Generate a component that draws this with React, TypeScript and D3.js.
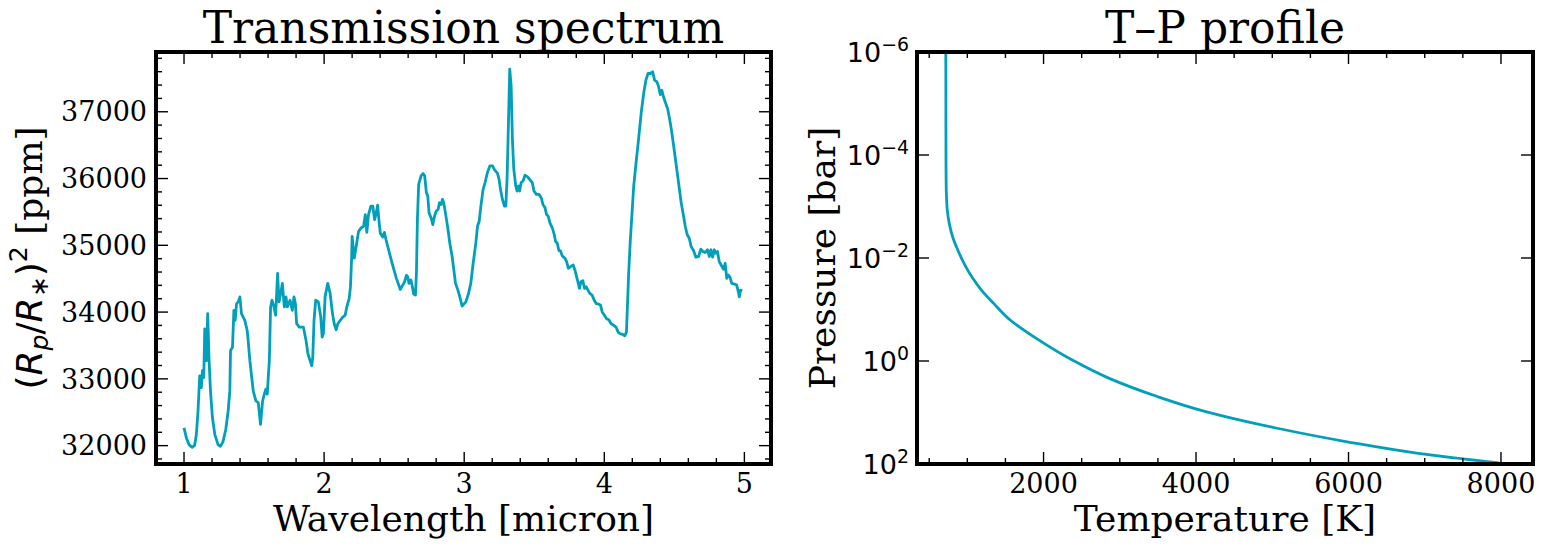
import * as d3 from 'd3';
import React, { useRef, useEffect } from 'react';

// transmission spectrum, wavelength in micron and (Rp/R*)^2 in ppm
const wavelength = [
  1.0, 1.017, 1.036, 1.057, 1.076, 1.088, 1.1, 1.112, 1.124, 1.131, 1.141, 1.148, 1.16, 1.169, 1.179,
  1.189, 1.203, 1.22, 1.243, 1.26, 1.279, 1.298, 1.315, 1.327, 1.332, 1.346, 1.356, 1.365, 1.375, 1.387,
  1.399, 1.41, 1.434, 1.451, 1.458, 1.47, 1.494, 1.513, 1.53, 1.546, 1.561, 1.573, 1.584, 1.594, 1.609,
  1.618, 1.628, 1.642, 1.654, 1.668, 1.678, 1.69, 1.702, 1.716, 1.728, 1.737, 1.757, 1.773, 1.785, 1.795,
  1.804, 1.823, 1.852, 1.871, 1.885, 1.9, 1.912, 1.919, 1.928, 1.94, 1.959, 1.976, 1.986, 1.995, 2.007,
  2.026, 2.043, 2.06, 2.072, 2.086, 2.098, 2.115, 2.134, 2.15, 2.162, 2.179, 2.188, 2.196, 2.2, 2.215,
  2.229, 2.246, 2.263, 2.282, 2.294, 2.305, 2.317, 2.334, 2.348, 2.36, 2.37, 2.382, 2.391, 2.401, 2.418,
  2.43, 2.442, 2.453, 2.473, 2.492, 2.516, 2.544, 2.561, 2.575, 2.587, 2.597, 2.606, 2.62, 2.63, 2.64,
  2.652, 2.659, 2.666, 2.675, 2.692, 2.706, 2.718, 2.73, 2.74, 2.749, 2.764, 2.776, 2.788, 2.8, 2.814,
  2.823, 2.835, 2.845, 2.854, 2.866, 2.883, 2.897, 2.914, 2.926, 2.938, 2.955, 2.969, 2.985, 3.012, 3.031,
  3.047, 3.064, 3.083, 3.095, 3.107, 3.119, 3.135, 3.149, 3.166, 3.183, 3.202, 3.218, 3.237, 3.249, 3.259,
  3.273, 3.287, 3.297, 3.306, 3.316, 3.325, 3.335, 3.344, 3.354, 3.368, 3.377, 3.387, 3.396, 3.406, 3.42,
  3.434, 3.451, 3.467, 3.486, 3.498, 3.515, 3.534, 3.55, 3.562, 3.577, 3.588, 3.6, 3.612, 3.629, 3.643,
  3.652, 3.664, 3.676, 3.687, 3.7, 3.719, 3.731, 3.743, 3.759, 3.778, 3.79, 3.807, 3.823, 3.833, 3.847,
  3.859, 3.871, 3.883, 3.897, 3.913, 3.928, 3.942, 3.961, 3.973, 3.985, 4.001, 4.015, 4.032, 4.049, 4.068,
  4.084, 4.098, 4.115, 4.132, 4.146, 4.158, 4.165, 4.174, 4.186, 4.198, 4.21, 4.227, 4.245, 4.264, 4.281,
  4.297, 4.312, 4.328, 4.345, 4.359, 4.376, 4.388, 4.4, 4.411, 4.423, 4.435, 4.452, 4.464, 4.478, 4.495,
  4.511, 4.53, 4.549, 4.566, 4.578, 4.592, 4.606, 4.62, 4.637, 4.654, 4.673, 4.689, 4.704, 4.72, 4.737,
  4.749, 4.761, 4.773, 4.785, 4.796, 4.808, 4.82, 4.834, 4.851, 4.863, 4.874, 4.886, 4.898, 4.91, 4.929,
  4.945, 4.957, 4.964, 4.973, 4.985,
];
const depth = [
  32267, 32116, 32015, 31975, 32005, 32166, 32518, 33046, 32870, 33122, 33021, 33750, 33273, 33977, 33273,
  32820, 32417, 32166, 32015, 31990, 32065, 32241, 32518, 32820, 33424, 33474, 34027, 33876, 34127, 34153,
  34228, 33977, 33876, 33725, 33574, 33273, 32820, 32669, 32644, 32317, 32669, 32770, 32845, 32770, 33273,
  34077, 34178, 34077, 33952, 34581, 34153, 34278, 34430, 34077, 34228, 34077, 34178, 34027, 34228, 34127,
  33826, 33776, 33776, 33574, 33373, 33273, 33197, 33323, 33876, 34178, 34153, 33927, 33625, 33675, 34228,
  34430, 34278, 33977, 33826, 33735, 33826, 33876, 33927, 33952, 34077, 34203, 34379, 34782, 35134, 34807,
  34983, 35209, 35259, 35285, 35460, 35194, 35460, 35586, 35586, 35385, 35460, 35601, 35385, 35184, 35124,
  35194, 35083, 34993, 34832, 34681, 34505, 34339, 34404, 34455, 34550, 34530, 34430, 34480, 34379, 34269,
  34254, 34580, 35385, 35913, 36039, 36074, 36039, 35788, 35737, 35486, 35410, 35310, 35436, 35511, 35536,
  35637, 35611, 35687, 35637, 35486, 35260, 35033, 34832, 34631, 34430, 34329, 34228, 34090, 34153, 34278,
  34430, 34731, 35033, 35285, 35360, 35586, 35838, 35939, 36090, 36190, 36190, 36125, 36080, 35989, 35838,
  35687, 35586, 35586, 35989, 36844, 37639, 37397, 36593, 36140, 35888, 35813, 35888, 35813, 35939, 35964,
  36049, 36029, 35989, 35939, 35813, 35763, 35763, 35712, 35612, 35561, 35460, 35435, 35335, 35260, 35159,
  35058, 35033, 34922, 34918, 34842, 34807, 34757, 34656, 34681, 34706, 34631, 34490, 34354, 34455, 34470,
  34354, 34379, 34329, 34279, 34254, 34178, 34128, 34118, 34103, 34002, 33952, 33902, 33886, 33826, 33801,
  33776, 33700, 33675, 33665, 33645, 33700, 34077, 34580, 35083, 35486, 35888, 36240, 36593, 36995, 37272,
  37473, 37573, 37573, 37598, 37473, 37448, 37372, 37256, 37322, 37221, 37146, 37045, 36920, 36744, 36492,
  36240, 35939, 35637, 35435, 35285, 35159, 35109, 34983, 34922, 34822, 34832, 34943, 34908, 34893, 34933,
  34832, 34933, 34822, 34933, 34883, 34908, 34757, 34706, 34641, 34731, 34505, 34556, 34520, 34430, 34420,
  34404, 34304, 34228, 34329, 34319,
];

// temperature-pressure profile
const tpPressure = [
  1e-6, 1e-5, 1e-4, 3e-4, 6e-4, 1.2e-3, 2.2e-3, 4e-3, 7e-3, 1.3e-2, 2.4e-2, 4.2e-2, 7.6e-2, 0.16, 0.39, 0.95,
  2.2, 4.9, 9.5, 20, 37, 62, 95,
];
const tpTemperature = [
  718, 719, 720, 722, 726, 738, 765, 810, 875, 960, 1065, 1185, 1345, 1562, 1935, 2371,
  2869, 3492, 4115, 5049, 5982, 6915, 7974,
];

const wavelengthTicks = [1, 2, 3, 4, 5];
const depthTicks = [32000, 33000, 34000, 35000, 36000, 37000];
const temperatureTicks = [2000, 4000, 6000, 8000];
const pressureTicks = [1e-6, 1e-4, 1e-2, 1, 1e2];

const W = 1545;
const H = 547;
const COLOR = '#00a0ba';
const SERIF = 'DejaVu Serif';
const SANS = 'DejaVu Sans';
const TICK_FS = 27;
const LABEL_FS = 36;
const TITLE_FS = 44;

const left = { x0: 156, x1: 771, y0: 52, y1: 464 };
const right = { x0: 917, x1: 1533, y0: 52, y1: 464 };

function drawTicks(g, scale, orient, values, size, frame) {
  // inward ticks on the given side of the frame
  const sel = g.append('g').attr('stroke', '#000').attr('stroke-width', 1.4);
  values.forEach((v) => {
    const p = scale(v);
    if (orient === 'bottom') sel.append('line').attr('x1', p).attr('x2', p).attr('y1', frame.y1).attr('y2', frame.y1 - size);
    if (orient === 'top') sel.append('line').attr('x1', p).attr('x2', p).attr('y1', frame.y0).attr('y2', frame.y0 + size);
    if (orient === 'left') sel.append('line').attr('y1', p).attr('y2', p).attr('x1', frame.x0).attr('x2', frame.x0 + size);
    if (orient === 'right') sel.append('line').attr('y1', p).attr('y2', p).attr('x1', frame.x1).attr('x2', frame.x1 - size);
  });
}

function App() {
  const svgRef = useRef(null);

  useEffect(() => {
    const svg = d3.select(svgRef.current);
    svg.selectAll('*').remove();

    // ---------- transmission spectrum ----------
    const x = d3.scaleLinear().domain([0.8, 5.19]).range([left.x0, left.x1]);
    const y = d3.scaleLinear().domain([31725, 37895]).range([left.y1, left.y0]);

    svg.append('clipPath').attr('id', 'clipL')
      .append('rect').attr('x', left.x0).attr('y', left.y0)
      .attr('width', left.x1 - left.x0).attr('height', left.y1 - left.y0);

    const line = d3.line()
      .x((d, i) => x(wavelength[i]))
      .y((d) => y(d));

    svg.append('path')
      .datum(depth)
      .attr('clip-path', 'url(#clipL)')
      .attr('d', line)
      .attr('fill', 'none')
      .attr('stroke', COLOR)
      .attr('stroke-width', 2.8)
      .attr('stroke-linejoin', 'round');

    const gL = svg.append('g');
    const xMinor = d3.range(0.8, 5.2, 0.2).filter((v) => Math.abs(v - Math.round(v)) > 1e-6);
    const yMinor = d3.range(31800, 37900, 200).filter((v) => v % 1000 !== 0);
    ['bottom', 'top'].forEach((o) => {
      drawTicks(gL, x, o, wavelengthTicks, 12, left);
      drawTicks(gL, x, o, xMinor, 6, left);
    });
    ['left', 'right'].forEach((o) => {
      drawTicks(gL, y, o, depthTicks, 12, left);
      drawTicks(gL, y, o, yMinor, 6, left);
    });

    gL.selectAll('.xt').data(wavelengthTicks).join('text')
      .attr('x', (d) => x(d)).attr('y', 493)
      .attr('text-anchor', 'middle')
      .attr('font-family', SERIF).attr('font-size', TICK_FS)
      .text((d) => d);

    gL.selectAll('.yt').data(depthTicks).join('text')
      .attr('x', 147).attr('y', (d) => y(d))
      .attr('dy', '0.36em')
      .attr('text-anchor', 'end')
      .attr('font-family', SERIF).attr('font-size', TICK_FS)
      .text((d) => d);

    gL.append('rect')
      .attr('x', left.x0).attr('y', left.y0)
      .attr('width', left.x1 - left.x0).attr('height', left.y1 - left.y0)
      .attr('fill', 'none').attr('stroke', '#000').attr('stroke-width', 4);

    gL.append('text')
      .attr('x', (left.x0 + left.x1) / 2).attr('y', 43)
      .attr('text-anchor', 'middle')
      .attr('font-family', SERIF).attr('font-size', TITLE_FS)
      .text('Transmission spectrum');

    gL.append('text')
      .attr('x', (left.x0 + left.x1) / 2).attr('y', 531)
      .attr('text-anchor', 'middle')
      .attr('font-family', SERIF).attr('font-size', LABEL_FS)
      .text('Wavelength [micron]');

    const yl = gL.append('text')
      .attr('transform', `translate(42,${(left.y0 + left.y1) / 2}) rotate(-90)`)
      .attr('text-anchor', 'middle')
      .attr('font-size', LABEL_FS);
    yl.append('tspan').attr('font-family', SANS).text('(');
    yl.append('tspan').attr('font-family', SANS).attr('font-style', 'italic').text('R');
    yl.append('tspan').attr('font-family', SANS).attr('font-style', 'italic')
      .attr('font-size', LABEL_FS * 0.7).attr('dy', 6).text('p');
    yl.append('tspan').attr('font-family', SANS).attr('dy', -6).text('/');
    yl.append('tspan').attr('font-family', SANS).attr('font-style', 'italic').text('R');
    yl.append('tspan').attr('font-family', SANS)
      .attr('font-size', LABEL_FS * 0.7).attr('dy', 6).text('\u2217');
    yl.append('tspan').attr('font-family', SANS).attr('dy', -6).text(')');
    yl.append('tspan').attr('font-family', SANS)
      .attr('font-size', LABEL_FS * 0.7).attr('dy', -15).text('2');
    yl.append('tspan').attr('font-family', SERIF).attr('dy', 15).text('\u00a0[ppm]');

    // ---------- T-P profile ----------
    const xT = d3.scaleLinear().domain([340, 8420]).range([right.x0, right.x1]);
    const yP = d3.scaleLog().domain([1e-6, 1e2]).range([right.y0, right.y1]);

    svg.append('clipPath').attr('id', 'clipR')
      .append('rect').attr('x', right.x0).attr('y', right.y0)
      .attr('width', right.x1 - right.x0).attr('height', right.y1 - right.y0);

    const tpLine = d3.line()
      .x((d) => xT(d))
      .y((d, i) => yP(tpPressure[i]))
      .curve(d3.curveMonotoneY);

    svg.append('path')
      .datum(tpTemperature)
      .attr('clip-path', 'url(#clipR)')
      .attr('d', tpLine)
      .attr('fill', 'none')
      .attr('stroke', COLOR)
      .attr('stroke-width', 2.8);

    const gR = svg.append('g');
    const tMinor = d3.range(500, 8500, 500).filter((v) => v % 2000 !== 0);
    ['bottom', 'top'].forEach((o) => {
      drawTicks(gR, xT, o, temperatureTicks, 12, right);
      drawTicks(gR, xT, o, tMinor, 6, right);
    });
    ['left', 'right'].forEach((o) => {
      drawTicks(gR, yP, o, pressureTicks, 12, right);
    });

    gR.selectAll('.xt').data(temperatureTicks).join('text')
      .attr('x', (d) => xT(d)).attr('y', 493)
      .attr('text-anchor', 'middle')
      .attr('font-family', SERIF).attr('font-size', TICK_FS)
      .text((d) => d);

    const pl = gR.selectAll('.yt').data(pressureTicks).join('text')
      .attr('x', 909).attr('y', (d) => yP(d))
      .attr('dy', '0.36em')
      .attr('text-anchor', 'end')
      .attr('font-family', SANS).attr('font-size', TICK_FS);
    pl.append('tspan').text('10');
    pl.append('tspan')
      .attr('font-size', TICK_FS * 0.7).attr('dy', -11)
      .text((d) => String(Math.round(Math.log10(d))).replace('-', '\u2212'));

    gR.append('rect')
      .attr('x', right.x0).attr('y', right.y0)
      .attr('width', right.x1 - right.x0).attr('height', right.y1 - right.y0)
      .attr('fill', 'none').attr('stroke', '#000').attr('stroke-width', 4);

    gR.append('text')
      .attr('x', (right.x0 + right.x1) / 2).attr('y', 43)
      .attr('text-anchor', 'middle')
      .attr('font-family', SERIF).attr('font-size', TITLE_FS)
      .text('T\u2013P profile');

    gR.append('text')
      .attr('x', (right.x0 + right.x1) / 2).attr('y', 531)
      .attr('text-anchor', 'middle')
      .attr('font-family', SERIF).attr('font-size', LABEL_FS)
      .text('Temperature [K]');

    gR.append('text')
      .attr('transform', `translate(835,${(right.y0 + right.y1) / 2}) rotate(-90)`)
      .attr('text-anchor', 'middle')
      .attr('font-family', SERIF).attr('font-size', LABEL_FS)
      .text('Pressure [bar]');
  }, []);

  return (
    <div style={{ position: 'absolute', left: 0, top: 0 }}>
      <svg width={W} height={H} ref={svgRef} style={{ display: 'block', background: '#fff' }} />
    </div>
  );
}

export default App;
